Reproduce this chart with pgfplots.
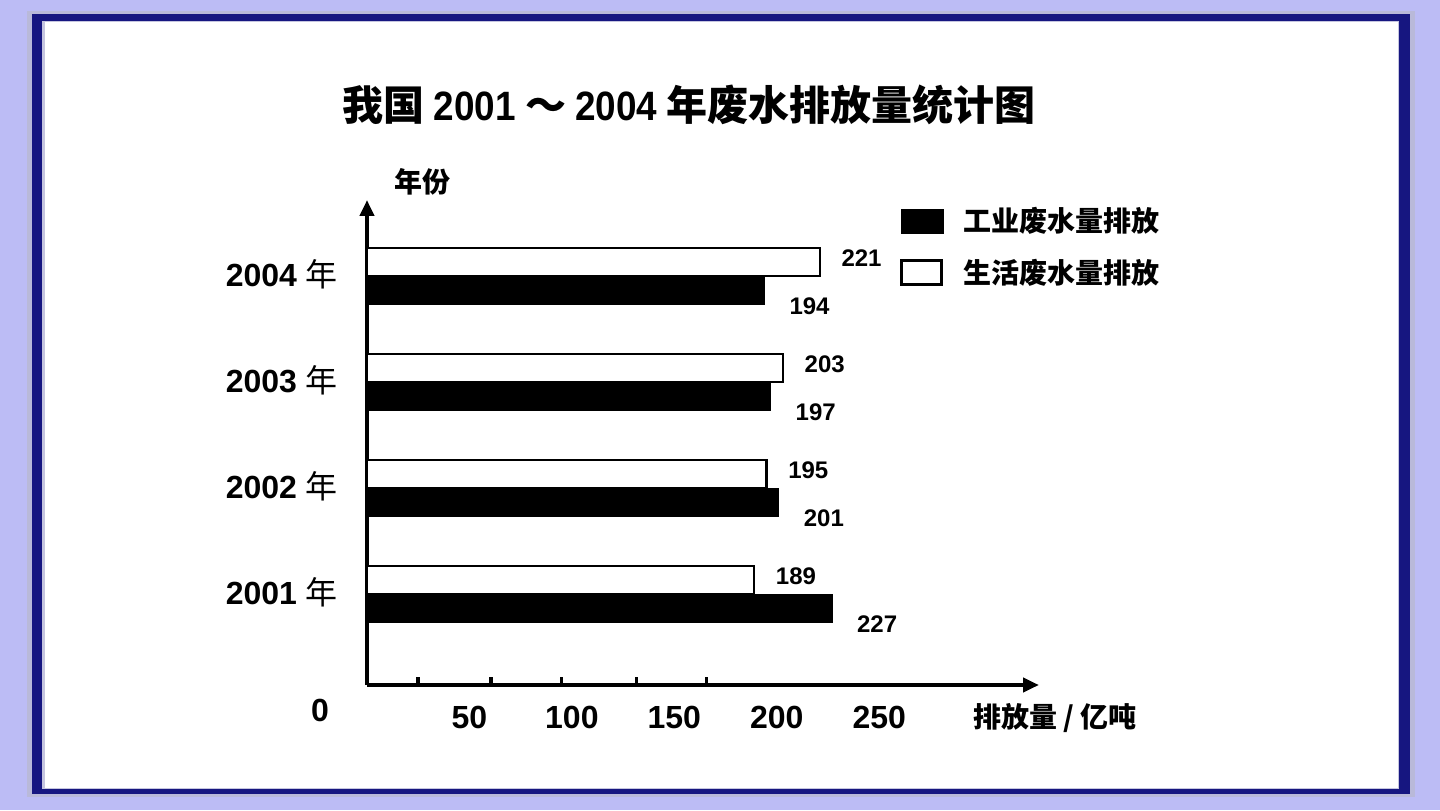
\documentclass[border=0pt]{standalone}
\usepackage{pgfplots}
\pgfplotsset{compat=1.18}
\usepackage{fontspec}
\setmainfont{Liberation Sans}
\newfontfamily\cjk{Noto Sans CJK SC}
\newfontfamily\narrowfont{Liberation Sans}[FakeStretch=0.9]
\usetikzlibrary{arrows.meta}
\definecolor{bgl}{RGB}{188,188,245}
\definecolor{navy}{RGB}{22,22,128}
\begin{document}
\begin{tikzpicture}[x=1pt,y=1pt]
\useasboundingbox (0,0) rectangle (720,405);
\fill[bgl] (0,0) rectangle (720,405);
\fill[navy!30!white] (13.5,6.5) rectangle (707.5,399.5);
\fill[navy] (16,8) rectangle (705,398);
\fill[navy!25!white] (21,10.5) rectangle (699.5,394.5);
\fill[white] (22.5,11) rectangle (699,394);
\begin{axis}[
  at={(183.5pt,62.5pt)}, anchor=south west,
  scale only axis, width=336pt, height=242.5pt,
  xmin=0, xmax=328, ymin=0.1415, ymax=4.717,
  axis lines=left,
  axis line style={line width=2pt, -{Triangle[length=8pt,width=7pt]}},
  xbar, bar width=0.265,
  point meta=x,
  /pgf/number format/assume math mode=true,
  xtick={24.9,60.5,95.1,131.7,165.9}, xticklabels={},
  x tick style={line width=1.6pt, black},
  xtick align=inside, major tick length=4pt,
  extra x ticks={50,100,150,200,250},
  extra x tick labels={50,100,150,200,250},
  extra x tick style={major tick length=0pt},
  xticklabel style={font=\fontsize{16}{16}\selectfont\bfseries, yshift=-7pt},
  ytick={1,2,3,4},
  yticklabels={{2001 {\cjk\mdseries 年}},{2002 {\cjk\mdseries 年}},{2003 {\cjk\mdseries 年}},{2004 {\cjk\mdseries 年}}},
  y tick style={draw=none},
  yticklabel style={font=\fontsize{16}{16}\selectfont\bfseries, xshift=-7pt, yshift=1pt},
  clip=false,
  nodes near coords,
  every node near coord/.append style={font=\fontsize{12}{12}\selectfont\bfseries, anchor=west},
  legend style={at={(rel axis cs:0.793,0.985)}, anchor=north west, draw=none, fill=none,
     inner sep=0pt, row sep=12pt, font=\fontsize{14}{14}\selectfont\cjk\bfseries,
     nodes={inner sep=0pt}},
  legend cell align=left,
  /tikz/every odd column/.append style={column sep=10pt},
]
\addplot[fill=black, draw=black, bar shift=-0.1325,
  every node near coord/.append style={xshift=9pt, yshift=-8pt, text=black},
  legend image code/.code={\fill[black] (0pt,-6pt) rectangle (21pt,6pt);}]
  coordinates {(227,1) (201,2) (197,3) (194,4)};
\addplot[fill=white, draw=black, line width=1.1pt, bar shift=0.1325,
  every node near coord/.append style={xshift=7pt, yshift=2pt, text=black},
  legend image code/.code={\draw[black, line width=1.1pt, fill=white] (0pt,-6pt) rectangle (20pt,6pt);}]
  coordinates {(189,1) (195,2) (203,3) (221,4)};
\legend{工业废水量排放,生活废水量排放}
\end{axis}
\node[font=\fontsize{20.5}{20.5}\selectfont\cjk\bfseries] at (344.5,352.5) {我国 {\narrowfont\bfseries 2001} ～ {\narrowfont\bfseries 2004} 年废水排放量统计图};
\node[font=\fontsize{14}{14}\selectfont\cjk\bfseries] at (211,314) {年份};
\node[font=\fontsize{14}{14}\selectfont\cjk\bfseries] at (527.5,46) {排放量 / 亿吨};
\node[font=\fontsize{16}{16}\selectfont\bfseries] at (160,50) {0};
\end{tikzpicture}
\end{document}
